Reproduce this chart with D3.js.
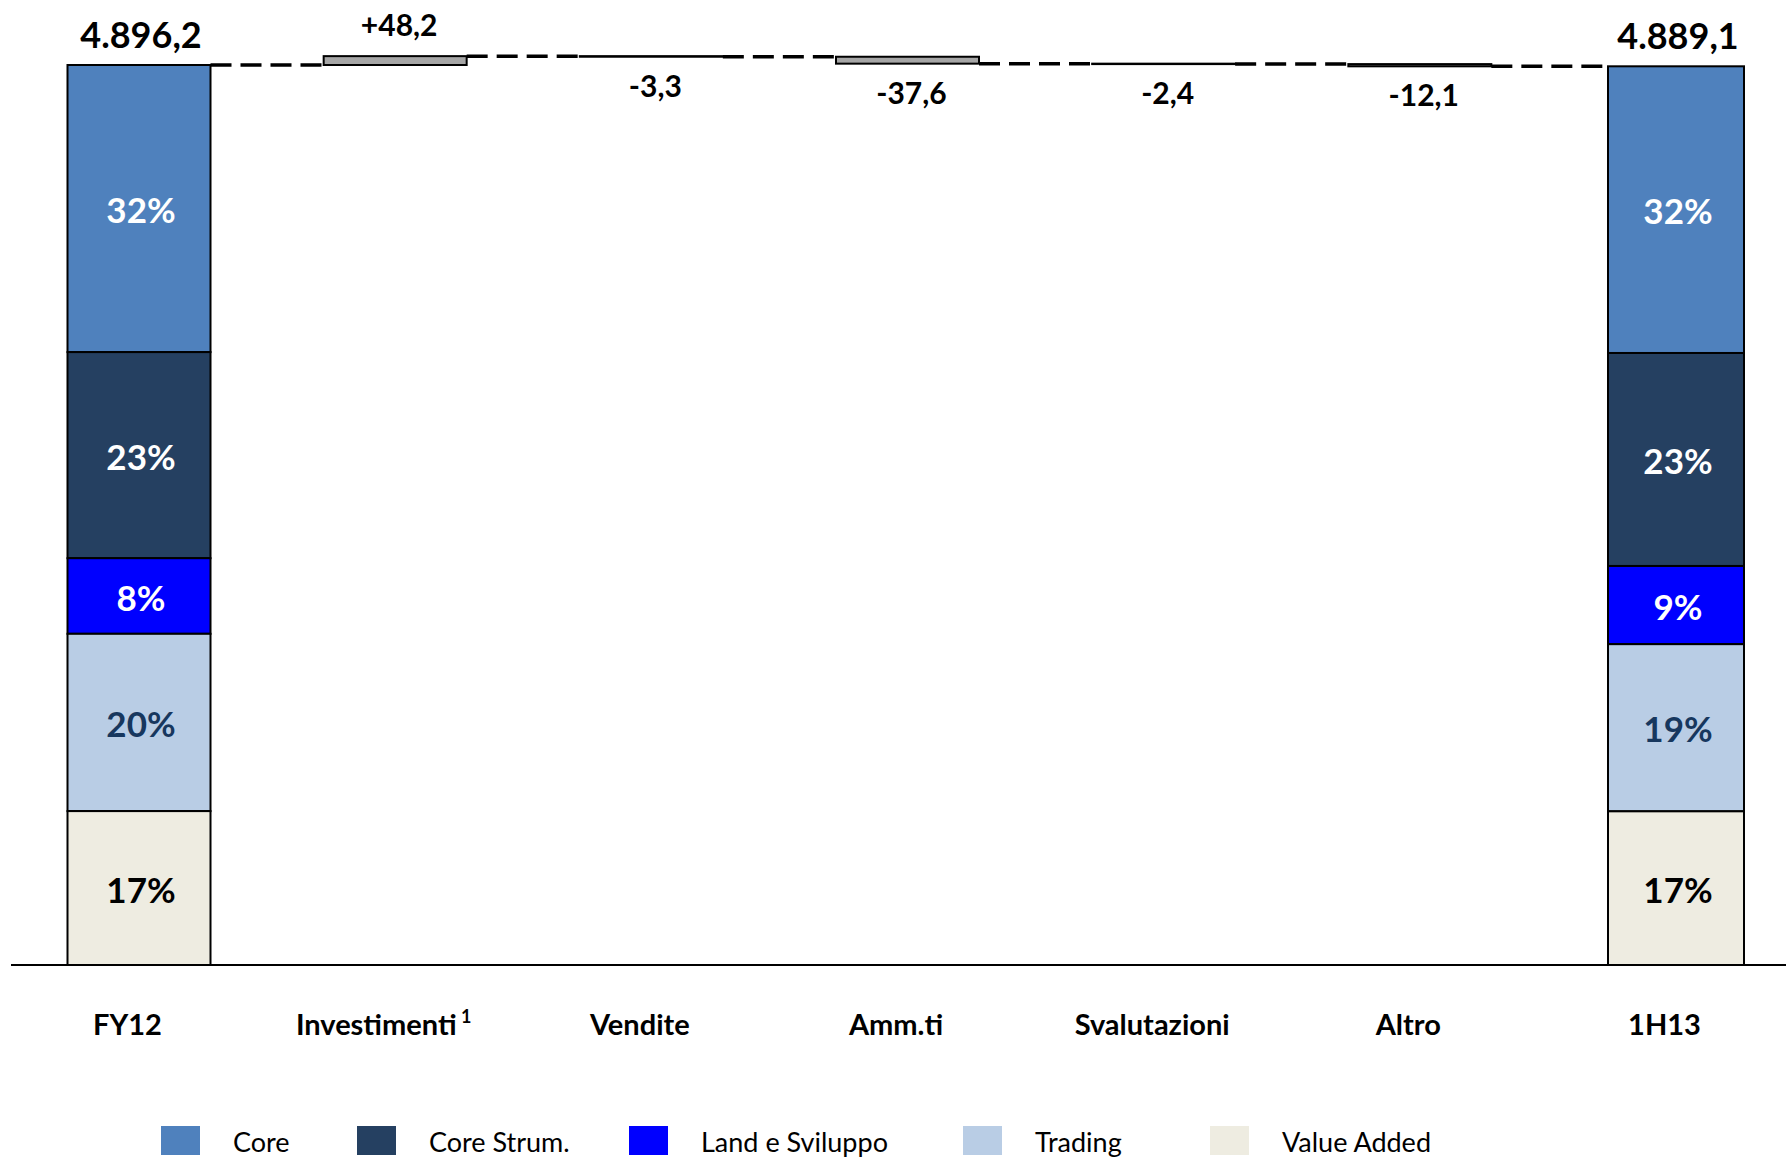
<!DOCTYPE html>
<html>
<head>
<meta charset="utf-8">
<script src="https://cdn.jsdelivr.net/npm/d3@7"></script>
<style>
  body { margin: 0; background: #fff; }
  text { font-family: Lato, "Open Sans", sans-serif; }
</style>
</head>
<body>
<div id="chart"></div>
<script>
// categories along the x axis
var categories = ["FY12", "Investimenti", "Vendite", "Amm.ti", "Svalutazioni", "Altro", "1H13"];

// opening / closing totals and the steps in between
var startTotal = 4896.2;
var endTotal = 4889.1;
var deltas = [48.2, -3.3, -37.6, -2.4, -12.1];

// portfolio mix of the two total bars (top to bottom)
var segmentNames = ["Core", "Core Strum.", "Land e Sviluppo", "Trading", "Value Added"];
var sharesFY12 = [31.9, 22.9, 8.4, 19.7, 17.1];
var shares1H13 = [31.9, 23.7, 8.7, 18.6, 17.1];
var pctLabelsFY12 = ["32%", "23%", "8%", "20%", "17%"];
var pctLabels1H13 = ["32%", "23%", "9%", "19%", "17%"];

var segColors = ["#4F81BD", "#254061", "#0000FF", "#B9CDE5", "#EEECE1"];
var segTextColors = ["#fff", "#fff", "#fff", "#17375E", "#000"];

var W = 1786, H = 1162;
var svg = d3.select("#chart").append("svg")
    .attr("width", W)
    .attr("height", H);

var it = d3.formatLocale({ decimal: ",", thousands: ".", grouping: [3], currency: ["€", ""], minus: "-" });
var fmtTotal = it.format(",.1f");
var fmtDelta = it.format("+,.1f");

// scales
var x = d3.scalePoint().domain(categories).range([139, 1676]);
var y = d3.scaleLinear().domain([0, startTotal]).range([965, 65]);
var barW = 143, endBarW = 136;

// build the waterfall steps
var steps = [];
var running = startTotal;
deltas.forEach(function (d, i) {
    steps.push({ name: categories[i + 1], from: running, to: running + d, value: d });
    running += d;
});

// dashed connectors
var levels = [{ x1: x("FY12") + barW / 2, x2: x(steps[0].name) - barW / 2, v: startTotal }];
steps.forEach(function (s, i) {
    var next = i < steps.length - 1 ? x(steps[i + 1].name) - barW / 2 : x("1H13") - endBarW / 2;
    levels.push({ x1: x(s.name) + barW / 2, x2: next, v: s.to });
});
svg.selectAll(".conn").data(levels).enter().append("line")
    .attr("class", "conn")
    .attr("x1", function (d) { return d.x1; })
    .attr("x2", function (d) { return d.x2; })
    .attr("y1", function (d) { return y(d.v); })
    .attr("y2", function (d) { return y(d.v); })
    .attr("stroke", "#000")
    .attr("stroke-width", 3.5)
    .attr("stroke-dasharray", "21,9");

// stacked total bars
function totalBar(cat, total, shares, labels, w) {
    var sum = d3.sum(shares);
    var top = total;
    var segs = shares.map(function (s, i) {
        var v = total * s / sum;
        var seg = { top: top, bottom: top - v, i: i };
        top -= v;
        return seg;
    });
    var g = svg.append("g");
    g.selectAll("rect").data(segs).enter().append("rect")
        .attr("x", x(cat) - w / 2)
        .attr("width", w)
        .attr("y", function (d) { return y(d.top); })
        .attr("height", function (d) { return y(d.bottom) - y(d.top); })
        .attr("fill", function (d) { return segColors[d.i]; })
        .attr("stroke", "#000")
        .attr("stroke-width", 2);
    g.selectAll("text.pct").data(segs).enter().append("text")
        .attr("class", "pct")
        .attr("x", x(cat) + 2)
        .attr("y", function (d) { return (y(d.top) + y(d.bottom)) / 2; })
        .attr("dy", "0.42em")
        .attr("text-anchor", "middle")
        .attr("font-size", 35)
        .attr("font-weight", "bold")
        .attr("fill", function (d) { return segTextColors[d.i]; })
        .text(function (d) { return labels[d.i]; });
    g.append("text")
        .attr("x", x(cat) + 2)
        .attr("y", y(total) - 17)
        .attr("text-anchor", "middle")
        .attr("font-size", 36)
        .attr("font-weight", "bold")
        .attr("fill", "#000")
        .text(fmtTotal(total));
}
totalBar("FY12", startTotal, sharesFY12, pctLabelsFY12, barW);
totalBar("1H13", endTotal, shares1H13, pctLabels1H13, endBarW);

// floating delta bars
svg.selectAll(".step").data(steps).enter().append("rect")
    .attr("class", "step")
    .attr("x", function (d) { return x(d.name) - barW / 2; })
    .attr("width", barW)
    .attr("y", function (d) { return y(Math.max(d.from, d.to)); })
    .attr("height", function (d) { return Math.abs(y(d.from) - y(d.to)); })
    .attr("fill", "#A6A6A6")
    .attr("stroke", "#000")
    .attr("stroke-width", 2);

svg.selectAll(".steplabel").data(steps).enter().append("text")
    .attr("class", "steplabel")
    .attr("x", function (d) { return x(d.name) + 4; })
    .attr("y", function (d) {
        return d.value > 0 ? y(d.to) - 20 : y(d.to) + 40;
    })
    .attr("text-anchor", "middle")
    .attr("font-size", 30)
    .attr("font-weight", "bold")
    .attr("fill", "#000")
    .text(function (d) { return fmtDelta(d.value); });

// baseline
svg.append("line")
    .attr("x1", 11).attr("x2", W)
    .attr("y1", y(0)).attr("y2", y(0))
    .attr("stroke", "#000")
    .attr("stroke-width", 2);

// category labels
var xAxis = svg.append("g")
    .attr("transform", "translate(0," + y(0) + ")")
    .call(d3.axisBottom(x).tickSize(0));
xAxis.select(".domain").remove();
xAxis.selectAll(".tick text")
    .attr("y", 70)
    .attr("dy", 0)
    .attr("dx", -12)
    .attr("font-family", "Lato, sans-serif")
    .attr("font-size", 29)
    .attr("font-weight", "bold")
    .attr("fill", "#000")
    .each(function (d) {
        if (d === "Investimenti") {
            d3.select(this).append("tspan")
                .attr("font-size", 18)
                .attr("dy", -12)
                .text(" 1");
        }
    });

// legend
var legendX = [161, 357, 629, 963, 1210];
var legend = svg.append("g");
segmentNames.forEach(function (name, i) {
    legend.append("rect")
        .attr("x", legendX[i]).attr("y", 1126)
        .attr("width", 39).attr("height", 29)
        .attr("fill", segColors[i]);
    legend.append("text")
        .attr("x", legendX[i] + 39 + 33)
        .attr("y", 1152)
        .attr("font-size", 27)
        .attr("fill", "#000")
        .text(name);
});
</script>
</body>
</html>
